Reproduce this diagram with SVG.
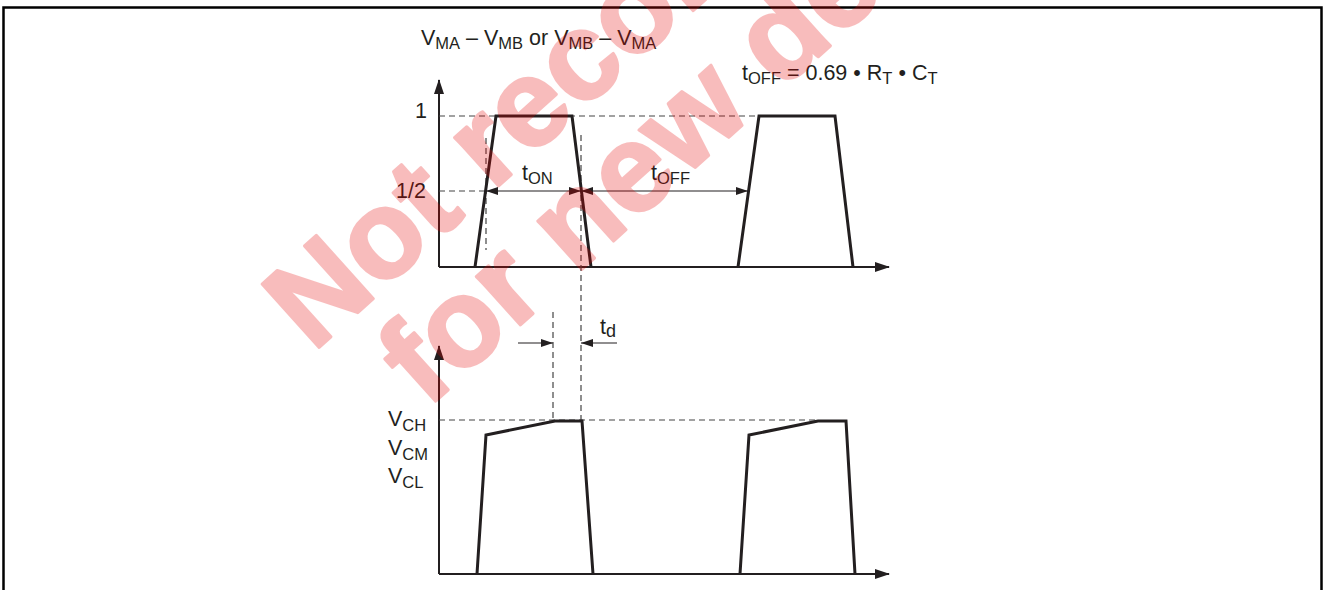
<svg xmlns="http://www.w3.org/2000/svg" width="1325" height="590" viewBox="0 0 1325 590">
<style>
text{font-family:"Liberation Sans",Arial,sans-serif;font-size:21.5px;fill:#231f20}
.s{font-size:16.5px}
.ax{stroke:#231f20;stroke-width:2;fill:none}
.wave{stroke:#231f20;stroke-width:3;fill:none;stroke-linejoin:miter}
.dash{stroke:#444;stroke-width:1.2;stroke-dasharray:6 4;fill:none}
.dim{stroke:#231f20;stroke-width:1.2;fill:none}
.wm{font-family:"Liberation Sans",Arial,sans-serif;font-weight:bold;font-size:124px;fill:#e80000;stroke:#e80000;stroke-width:3;stroke-linejoin:round}
</style>
<defs>
<marker id="axh" viewBox="0 0 15 10" refX="14" refY="5" markerWidth="15" markerHeight="10" markerUnits="userSpaceOnUse" orient="auto"><path d="M0,0 L15,5 L0,10 z" fill="#231f20"/></marker>
<marker id="dh" viewBox="0 0 12 8" refX="12" refY="4" markerWidth="12" markerHeight="8" markerUnits="userSpaceOnUse" orient="auto-start-reverse"><path d="M0,0 L12,4 L0,8 z" fill="#231f20"/></marker>
</defs>
<rect width="1325" height="590" fill="#fff"/>
<g id="frame"><path d="M3.5,600 V7.5 H1321.5 V600" fill="none" stroke="#000" stroke-width="2.5"/></g>

<g id="top-graph">
<path class="ax" d="M439,267 V80" marker-end="url(#axh)"/>
<path class="ax" d="M439,267 H889" marker-end="url(#axh)"/>
<path class="dash" d="M439,116 H835 M439,191 H486 M486,138 V250 M581,135 V421"/>
<path class="wave" d="M475,267 L496,116 L572,116 L591,267"/>
<path class="wave" d="M738,267 L759,116 L835,116 L853,267"/>
</g>

<g id="connectors">
<path class="dim" d="M486,191 H581" marker-start="url(#dh)" marker-end="url(#dh)"/>
<path class="dim" d="M581,191 H748" marker-start="url(#dh)" marker-end="url(#dh)"/>
<path class="dim" d="M518,343 H553" marker-end="url(#dh)"/>
<path class="dim" d="M617,343 H581" marker-end="url(#dh)"/>
</g>

<g id="bottom-graph">
<path class="ax" d="M439,574 V346" marker-end="url(#axh)"/>
<path class="ax" d="M439,574 H889" marker-end="url(#axh)"/>
<path class="dash" d="M439,420 H815 M553,312 V420"/>
<path class="wave" d="M477,574 L486,435 L555,421 L582,421 L593,574"/>
<path class="wave" d="M740,574 L749,435 L818,421 L846,421 L855,574"/>
</g>

<g id="labels">
<text x="421" y="45">V<tspan class="s" dy="4">MA</tspan><tspan dy="-4"> – V</tspan><tspan class="s" dy="4">MB</tspan><tspan dy="-4"> or V</tspan><tspan class="s" dy="4">MB</tspan><tspan dy="-4"> – V</tspan><tspan class="s" dy="4">MA</tspan></text>
<text x="742" y="80">t<tspan class="s" dy="4">OFF</tspan><tspan dy="-4"> = 0.69 • R</tspan><tspan class="s" dy="4">T</tspan><tspan dy="-4"> • C</tspan><tspan class="s" dy="4">T</tspan></text>
<text x="415" y="118">1</text>
<text x="396" y="198">1/2</text>
<text x="522" y="180">t<tspan class="s" dy="4">ON</tspan></text>
<text x="651" y="180">t<tspan class="s" dy="4">OFF</tspan></text>
<text x="600" y="334">t<tspan class="s" dy="3" style="font-size:18px">d</tspan></text>
<text x="388" y="426">V<tspan class="s" dy="5">CH</tspan></text>
<text x="388" y="455">V<tspan class="s" dy="5">CM</tspan></text>
<text x="388" y="483">V<tspan class="s" dy="5">CL</tspan></text>
</g>

<g id="watermark" opacity="0.26">
<text class="wm" transform="translate(313,353) rotate(-42)">Not recommended</text>
<text class="wm" transform="translate(427,409) rotate(-42)">for new designs</text>
</g>
</svg>
